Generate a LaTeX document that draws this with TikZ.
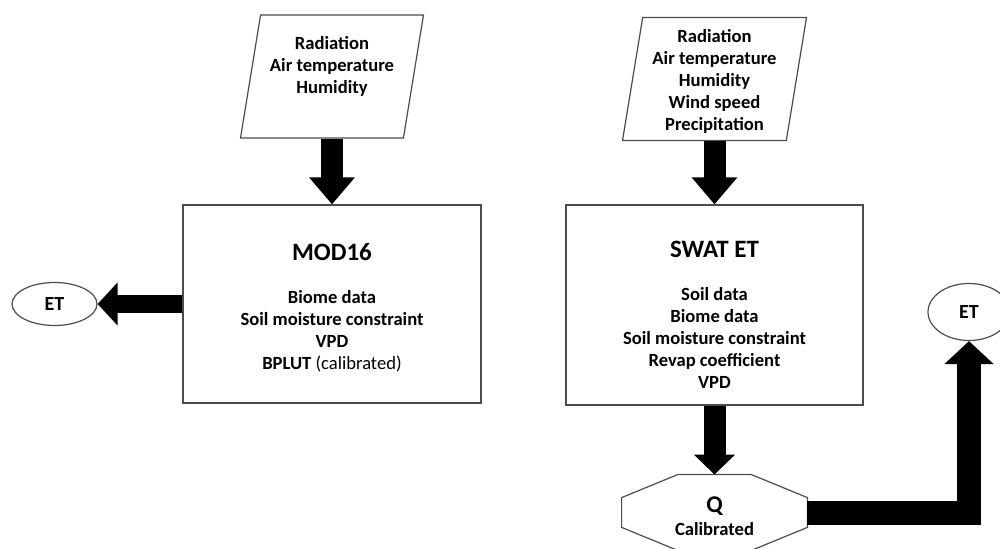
\documentclass[tikz,border=0pt]{standalone}
\usepackage{fontspec}
\setmainfont{Carlito}
\usetikzlibrary{arrows.meta,shapes.geometric}

\begin{document}
\begin{tikzpicture}[x=0.5pt, y=-0.5pt,
  frame/.style={draw=black!70, line width=0.6pt, fill=white},
  inbox/.style={frame, trapezium, trapezium stretches=true,
    trapezium left angle=82, trapezium right angle=98,
    minimum width=91.5pt, minimum height=61.5pt, inner sep=2pt},
  modelbox/.style={frame, rectangle, minimum width=149pt, minimum height=99pt, inner sep=0pt},
  etnode/.style={frame, ellipse, inner sep=0pt, font=\fontsize{10}{12}\selectfont\bfseries},
  txt/.style={align=center, inner sep=0pt, font=\fontsize{9.3}{11}\selectfont\bfseries},
  fat/.style={line width=11pt, -{Triangle[length=13.5pt, width=22pt]}}
]
  \useasboundingbox (0,0) rectangle (1000,549);

  % ====== left: MOD16 ======
  \node[inbox] (inL) at (332,76.5) {};
  \node[txt] (inLtxt) at (332,66) {Radiation\\Air temperature\\Humidity};
  \node[modelbox] (mod) at (332,304) {};
  \node[txt, anchor=north] (modtxt) at (332,243)
    {{\fontsize{12.5}{14}\selectfont MOD16}\\[10.5pt]
     Biome data\\Soil moisture constraint\\VPD\\BPLUT {\mdseries(calibrated)}};
  \node[etnode, minimum width=42.5pt, minimum height=21.5pt] (etL) at (54.5,304) {ET};

  \draw[fat] (inL.south) -- (mod.north);
  \draw[fat, line width=9pt, -{Triangle[length=10pt, width=21pt]}] (mod.west) -- (etL.east);

  % ====== right: SWAT ET ======
  \node[inbox, minimum width=92pt] (inR) at (714.5,79) {};
  \node[txt] (inRtxt) at (714.5,81.5)
    {Radiation\\Air temperature\\Humidity\\Wind speed\\Precipitation};
  \node[modelbox, minimum width=148.5pt, minimum height=100pt] (swat) at (714.5,305) {};
  \node[txt, anchor=north] (swattxt) at (714.5,241)
    {{\fontsize{12.5}{14}\selectfont SWAT ET}\\[10.5pt]
     Soil data\\Biome data\\Soil moisture constraint\\Revap coefficient\\VPD};
  % octagon round Q
  \node[minimum width=92.5pt, minimum height=37.5pt, inner sep=0pt] (q) at (714.5,512.5) {};
  \draw[frame] ([xshift=28pt]q.north west) -- ([xshift=-28pt]q.north east)
    -- ([yshift=-11.5pt]q.north east) -- ([yshift=11.5pt]q.south east)
    -- ([xshift=-28pt]q.south east) -- ([xshift=28pt]q.south west)
    -- ([yshift=11.5pt]q.south west) -- ([yshift=-11.5pt]q.north west) -- cycle;
  \node[txt] (qtxt) at (714.5,516)
    {{\fontsize{12}{14}\selectfont Q}\\[0.5pt]Calibrated};
  \node[etnode, minimum width=41pt, minimum height=28.5pt] (etR) at (969,312) {ET};

  \draw[fat] (inR.south) -- (swat.north);
  \draw[fat, -{Triangle[length=10pt, width=20pt]}] (swat.south) -- (q.north);
  \draw[fat, line width=12pt, -{Triangle[length=11.5pt, width=24pt]}]
    (q.east) -- (q.east -| etR.south) -- (etR.south);

\end{tikzpicture}
\end{document}
